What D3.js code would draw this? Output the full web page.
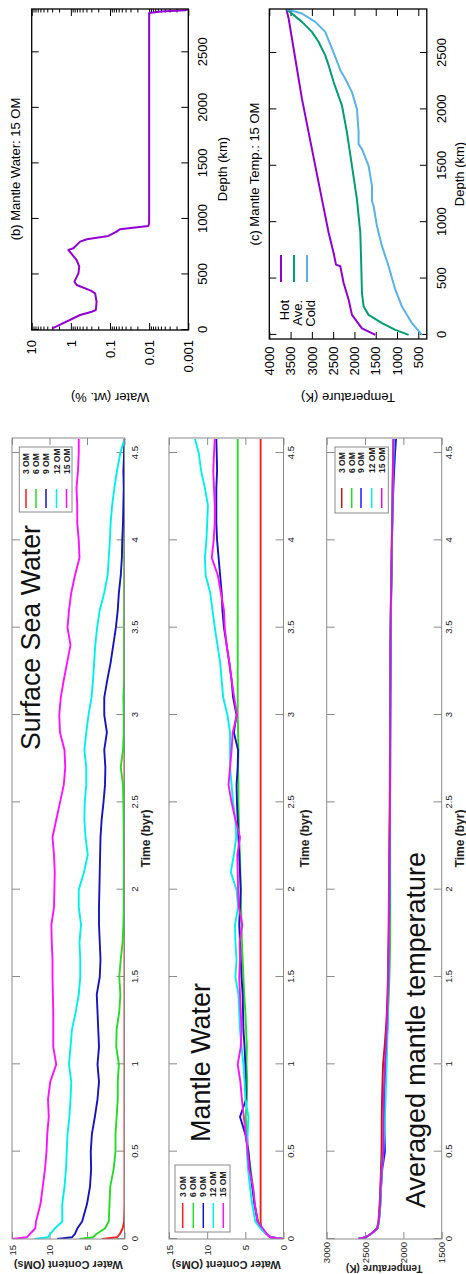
<!DOCTYPE html>
<html>
<head>
<meta charset="utf-8">
<script src="https://cdn.jsdelivr.net/npm/d3@7"></script>
<style>
  html, body { margin: 0; padding: 0; background: #fff; }
  svg { display: block; }
</style>
</head>
<body>
<div id="fig"></div>
<script>
// ---- time series (Time in byr) ----
const times = [0, 0.01, 0.03, 0.06, 0.1, 0.2, 0.3, 0.4, 0.5, 0.6, 0.7, 0.8, 0.9, 1.0, 1.1, 1.2, 1.3, 1.4, 1.5, 1.6,
  1.7, 1.8, 1.9, 2.0, 2.1, 2.2, 2.3, 2.4, 2.5, 2.6, 2.7, 2.8, 2.9, 3.0, 3.1, 3.2, 3.3, 3.4, 3.5, 3.6,
  3.7, 3.8, 3.9, 4.0, 4.1, 4.2, 4.3, 4.4, 4.5, 4.58];

// Surface sea water (OMs)
const sea3  = [3, 1.0, 0.6, 0.25, 0.05, 0, 0, 0, 0, 0, 0, 0, 0, 0, 0, 0, 0, 0, 0, 0,
  0, 0, 0, 0, 0, 0, 0, 0, 0, 0, 0, 0, 0, 0, 0, 0, 0, 0, 0, 0, 0, 0, 0, 0, 0, 0, 0, 0, 0, 0];
const sea6  = [6, 4.2, 3.7, 2.6, 2.1, 2.0, 1.9, 1.45, 1.2, 1.2, 1.05, 0.9, 0.9, 0.75, 1.1, 1.05, 0.7, 0.55, 0.7, 0.5,
  0.25, 0.15, 0.1, 0.1, 0.08, 0.1, 0.1, 0.12, 0.15, 0.2, 0.5, 0.2, 0.1, 0.1, 0.15, 0.05, 0.05, 0.05, 0.05, 0.03,
  0.03, 0.02, 0.02, 0.02, 0.02, 0.01, 0.01, 0, 0, 0];
const sea9  = [9, 7.0, 6.6, 6.3, 5.65, 5.0, 4.6, 4.45, 4.5, 4.35, 3.95, 3.6, 3.4, 3.6, 3.4, 3.5, 3.6, 3.7, 3.3, 3.2,
  3.3, 3.4, 3.4, 3.35, 3.3, 3.25, 3.2, 3.05, 2.8, 2.6, 2.55, 2.7, 2.35, 2.7, 2.7, 2.3, 1.85, 1.5, 1.15, 0.9,
  0.75, 0.5, 0.35, 0.3, 0.2, 0.15, 0.1, 0.15, 0.05, 0];
const sea12 = [12, 10.2, 9.9, 9.3, 8.3, 8.3, 8.0, 7.8, 7.7, 7.6, 7.35, 7.2, 7.1, 7.4, 7.2, 7.0, 6.5, 6.1, 5.9, 5.9,
  6.0, 5.8, 6.1, 6.1, 5.4, 4.9, 5.2, 5.35, 5.3, 5.1, 5.1, 5.35, 5.1, 4.8, 4.4, 4.2, 4.05, 3.9, 3.65, 3.3,
  2.7, 2.25, 2.1, 1.95, 1.85, 1.65, 1.35, 1.0, 0.55, 0];
const sea15 = [15, 13.0, 12.6, 11.9, 11.8, 11.2, 10.9, 10.6, 10.4, 10.3, 10.1, 10.2, 9.9, 9.1, 9.5, 9.5, 9.5, 9.55, 9.6, 9.6,
  9.7, 9.75, 9.4, 9.35, 9.3, 9.4, 9.6, 9.1, 8.6, 8.1, 7.9, 8.0, 8.6, 8.7, 8.5, 8.1, 7.65, 7.2, 7.6, 7.4,
  7.1, 6.6, 6.0, 6.1, 6.3, 6.3, 6.4, 6.2, 6.1, 6.1];

// Mantle water (OMs)
const man3  = [0, 1.7, 2.3, 2.9, 3.0, 3.0, 3.0, 3.0, 3.0, 3.0, 3.0, 3.0, 3.0, 3.0, 3.0, 3.0, 3.0, 3.0, 3.0, 3.0,
  3.0, 3.0, 3.0, 3.0, 3.0, 3.0, 3.0, 3.0, 3.0, 3.0, 3.0, 3.0, 3.0, 3.0, 3.0, 3.0, 3.0, 3.0, 3.0, 3.0,
  3.0, 3.0, 3.0, 3.0, 3.0, 3.0, 3.0, 3.0, 3.0, 3.0];
const man6  = [0, 1.7, 2.2, 2.8, 3.3, 3.8, 4.0, 4.3, 4.6, 4.8, 4.95, 4.8, 4.75, 4.85, 4.8, 4.9, 5.0, 5.15, 5.25, 5.35,
  5.45, 5.5, 5.55, 5.6, 5.65, 5.7, 5.8, 5.85, 5.9, 5.9, 5.95, 5.9, 5.95, 6.0, 6.0, 6.0, 6.0, 6.0, 6.0, 6.0,
  6.0, 6.0, 6.0, 6.0, 6.0, 6.0, 6.0, 6.0, 6.0, 6.0];
const man9  = [0, 1.7, 2.2, 2.8, 3.4, 3.8, 4.1, 4.4, 4.6, 5.0, 5.7, 4.9, 4.95, 5.0, 5.1, 5.25, 5.3, 5.35, 5.5, 5.6,
  5.7, 5.8, 5.7, 5.6, 5.7, 5.8, 5.9, 6.0, 6.1, 6.15, 6.0, 5.95, 6.5, 6.15, 6.6, 6.8, 7.1, 7.45, 7.8, 8.0,
  8.1, 8.3, 8.5, 8.7, 8.8, 8.8, 8.8, 8.7, 8.75, 8.8];
const man12 = [0, 1.7, 2.3, 3.0, 3.7, 4.1, 4.4, 4.65, 4.8, 4.7, 4.6, 5.0, 5.1, 5.25, 5.5, 5.7, 5.8, 5.9, 6.3, 6.15,
  6.3, 6.35, 5.95, 6.15, 6.9, 6.5, 6.2, 6.3, 6.6, 6.8, 7.0, 7.0, 7.0, 7.35, 7.9, 8.1, 8.3, 8.65, 9.0, 9.3,
  9.6, 10.2, 10.3, 10.1, 10.0, 9.9, 10.3, 10.8, 11.1, 11.6];
const man15 = [0, 1.75, 2.2, 2.7, 3.4, 3.75, 4.0, 4.5, 4.7, 4.95, 5.2, 5.45, 5.65, 6.0, 5.6, 5.5, 5.6, 5.7, 5.8, 5.7,
  5.75, 5.4, 5.85, 5.95, 6.0, 6.05, 5.7, 6.3, 6.8, 7.2, 7.0, 6.8, 6.65, 6.1, 6.45, 6.8, 7.1, 7.45, 7.7, 7.8,
  8.2, 8.6, 9.4, 9.15, 9.0, 9.0, 9.1, 9.2, 9.1, 9.0];

// Averaged mantle temperature (K)
const tmp3  = [2590, 2490, 2420, 2345, 2325, 2310, 2300, 2292, 2285, 2283, 2282, 2278, 2272, 2265, 2245, 2228, 2215, 2207, 2202, 2198,
  2195, 2192, 2190, 2188, 2186, 2184, 2182, 2180, 2178, 2177, 2176, 2175, 2174, 2173, 2172, 2171, 2170, 2169, 2167, 2165,
  2161, 2157, 2154, 2151, 2147, 2144, 2141, 2138, 2134, 2130];
const tmp6  = [2590, 2490, 2420, 2340, 2320, 2302, 2293, 2282, 2268, 2262, 2258, 2252, 2244, 2235, 2222, 2210, 2200, 2190, 2182, 2176,
  2173, 2172, 2171, 2171, 2172, 2172, 2172, 2172, 2172, 2172, 2171, 2171, 2171, 2170, 2170, 2169, 2168, 2167, 2165, 2163,
  2159, 2155, 2152, 2149, 2145, 2141, 2138, 2135, 2131, 2127];
const tmp9  = [2590, 2490, 2420, 2340, 2318, 2300, 2290, 2275, 2240, 2245, 2248, 2245, 2238, 2228, 2218, 2210, 2204, 2199, 2195, 2191,
  2188, 2186, 2184, 2182, 2180, 2178, 2177, 2175, 2174, 2173, 2172, 2172, 2171, 2170, 2169, 2168, 2167, 2166, 2164, 2162,
  2158, 2154, 2151, 2148, 2144, 2138, 2130, 2120, 2108, 2095];
const tmp12 = [2590, 2490, 2420, 2340, 2318, 2298, 2290, 2278, 2262, 2250, 2240, 2232, 2225, 2218, 2212, 2206, 2201, 2197, 2193, 2190,
  2188, 2186, 2184, 2182, 2180, 2178, 2177, 2175, 2174, 2173, 2172, 2172, 2171, 2170, 2169, 2168, 2167, 2166, 2164, 2162,
  2158, 2154, 2151, 2148, 2144, 2140, 2137, 2133, 2128, 2122];
const tmp15 = [2590, 2490, 2420, 2340, 2322, 2304, 2296, 2283, 2263, 2261, 2260, 2258, 2250, 2240, 2228, 2218, 2210, 2203, 2197, 2193,
  2190, 2188, 2186, 2184, 2182, 2180, 2178, 2176, 2175, 2174, 2174, 2173, 2172, 2172, 2171, 2170, 2169, 2168, 2166, 2164,
  2160, 2156, 2153, 2150, 2146, 2142, 2139, 2136, 2132, 2128];

const omLabels   = ['3 OM', '6 OM', '9 OM', '12 OM', '15 OM'];
const timeTicks  = [0, 0.5, 1, 1.5, 2, 2.5, 3, 3.5, 4, 4.5];
const waterTicks = [0, 5, 10, 15];
const tempTicks  = [1500, 2000, 2500, 3000];

// ---- (b) mantle water profile, 15 OM ----
const depthB = [15, 135, 165, 180, 255, 330, 354, 405, 435, 510, 570, 630, 721, 736, 796, 817, 847, 886, 907, 937, 961, 2853, 2868, 2878, 2890];
const waterB = [2.97, 0.58, 0.29, 0.23, 0.22, 0.24, 0.31, 0.71, 0.81, 0.64, 0.61, 0.71, 1.16, 0.86, 0.58, 0.39, 0.11, 0.068, 0.056, 0.0105, 0.01, 0.01, 0.005, 0.0012, 0.001];

// ---- (c) mantle temperature profile, 15 OM ----
const hotDepth  = [0, 59, 178, 312, 460, 609, 623, 727, 906, 1202, 1499, 1796, 2093, 2449, 2806, 2890];
const hotT      = [1510, 1823, 2058, 2136, 2254, 2332, 2434, 2489, 2606, 2763, 2920, 3076, 3233, 3389, 3546, 3600];
const aveDepth  = [0, 45, 104, 178, 252, 371, 609, 906, 1202, 1499, 1796, 2034, 2242, 2390, 2479, 2598, 2687, 2776, 2890];
const aveT      = [727, 1040, 1353, 1667, 1784, 1823, 1839, 1862, 1941, 2058, 2176, 2293, 2489, 2606, 2685, 2841, 2998, 3233, 3600];
const coldDepth = [0, 104, 252, 401, 609, 787, 965, 1143, 1188, 1321, 1499, 1648, 1692, 1796, 2004, 2153, 2271, 2346, 2390, 2539, 2687, 2776, 2850, 2890];
const coldT     = [414, 649, 884, 1040, 1197, 1353, 1471, 1549, 1588, 1588, 1667, 1823, 1902, 1902, 1941, 2058, 2215, 2332, 2372, 2528, 2685, 2920, 3233, 3600];

const depthTicks = [0, 500, 1000, 1500, 2000, 2500];
const logTicks   = [0.001, 0.01, 0.1, 1, 10];
const tempCTicks = [500, 1000, 1500, 2000, 2500, 3000, 3500, 4000];

// ---------------------------------------------------------------
const FONT = '"Liberation Sans", Arial, Helvetica, sans-serif';
const W = 466, H = 1274;
const plain = d => String(d);

const svg = d3.select('#fig').append('svg')
  .attr('width', W).attr('height', H)
  .attr('font-family', FONT);
svg.append('rect').attr('width', W).attr('height', H).attr('fill', '#fff');
const defs = svg.append('defs');

// the whole figure is landscape (1274 x 466), turned a quarter left
const g = svg.append('g').attr('transform', `translate(0,${H}) rotate(-90)`);

function clip(id, x, y, w, h) {
  defs.append('clipPath').attr('id', id)
    .append('rect').attr('x', x).attr('y', y).attr('width', w).attr('height', h);
  return `url(#${id})`;
}

function styleAxis(sel, tickColor, fontSize, textColor) {
  sel.attr('font-family', FONT).attr('font-size', fontSize);
  sel.select('.domain').remove();
  sel.selectAll('.tick line').attr('stroke', tickColor);
  sel.selectAll('.tick text').attr('fill', textColor);
}

const palA = ['#ff1a1a', '#22dd22', '#1414c0', '#00f0f0', '#ff10ff'];
const palB = ['#c81414', '#22dd22', '#1a1aff', '#00f0f0', '#dd10dd'];

const panels = [
  { key: 'sea', top: 12, bottom: 124.5, domain: [0, 15], ticks: waterTicks, series: [sea3, sea6, sea9, sea12, sea15],
    colors: palA, tpad: 7, vpad: 6, ylabel: 'Water Content (OMs)', ylabelX: 13.5, ylabelSize: 11,
    tlabelY: 149.6, title: 'Surface Sea Water', titleX: 524, titleY: 40, titleLen: 225,
    leg: { x0: 762, x1: 827, y0: 19.3, y1: 72, lx0: 766, lx1: 785, tx: 800, rows: [26, 36, 46, 56.5, 66.5] } },
  { key: 'man', top: 169, bottom: 283.5, domain: [0, 15], ticks: waterTicks, series: [man3, man6, man9, man12, man15],
    colors: palA, tpad: 3.5, vpad: 6, ylabel: 'Water Content (OMs)', ylabelX: 13.5, ylabelSize: 11,
    tlabelY: 308.5, title: 'Mantle Water', titleX: 132, titleY: 210, titleLen: 159,
    leg: { x0: 42, x1: 109, y0: 175, y1: 230, lx0: 46, lx1: 71, tx: 77, rows: [182.7, 193.3, 203.3, 213.3, 223.3] } },
  { key: 'tmp', top: 326.7, bottom: 441.7, domain: [1500, 3000], ticks: tempTicks, series: [tmp3, tmp6, tmp9, tmp12, tmp15],
    colors: palB, tpad: 3.5, vpad: 3, ylabel: 'Temperature (K)', ylabelX: 9, ylabelSize: 10,
    tlabelY: 464, title: 'Averaged mantle temperature', titleX: 66, titleY: 424.5, titleLen: 356,
    leg: { x0: 761, x1: 827, y0: 335, y1: 388.3, lx0: 766, lx1: 786, tx: 801, rows: [341.7, 351.7, 361, 371.7, 381.7] } }
];

const xT = d3.scaleLinear().domain([0, 4.586]).range([35, 836]);
const GRAY = '#8a8a8a';

panels.forEach(p => {
  const y = d3.scaleLinear().domain(p.domain).range([p.bottom, p.top]);
  const pg = g.append('g');

  // axes: ticks inward on all four sides, labels left and bottom
  pg.append('g').attr('transform', `translate(0,${p.bottom})`)
    .call(d3.axisBottom(xT).tickValues(timeTicks).tickSizeInner(-8).tickSizeOuter(0)
      .tickPadding(p.tpad).tickFormat(plain))
    .call(s => styleAxis(s, GRAY, 9.5, '#222'));
  pg.append('g').attr('transform', `translate(0,${p.top})`)
    .call(d3.axisTop(xT).tickValues(timeTicks).tickSizeInner(-8).tickSizeOuter(0).tickFormat(() => ''))
    .call(s => styleAxis(s, GRAY, 9.5, '#222'));
  pg.append('g').attr('transform', 'translate(35,0)')
    .call(d3.axisLeft(y).tickValues(p.ticks).tickSizeInner(-7).tickSizeOuter(0).tickPadding(p.vpad).tickFormat(plain))
    .call(s => styleAxis(s, GRAY, 9.5, '#222'));
  pg.append('g').attr('transform', 'translate(836,0)')
    .call(d3.axisRight(y).tickValues(p.ticks).tickSizeInner(-7).tickSizeOuter(0).tickFormat(() => ''))
    .call(s => styleAxis(s, GRAY, 9.5, '#222'));

  // series
  const line = d3.line().x(d => xT(d[0])).y(d => y(d[1]));
  const lg = pg.append('g').attr('clip-path', clip('c-' + p.key, 35, p.top, 801, p.bottom - p.top));
  p.series.forEach((vals, i) => {
    lg.append('path')
      .datum(times.map((t, k) => [t, vals[k]]))
      .attr('d', line)
      .attr('fill', 'none')
      .attr('stroke', p.colors[i])
      .attr('stroke-width', 1.9)
      .attr('stroke-linejoin', 'round');
  });

  // frame
  pg.append('rect').attr('x', 35).attr('y', p.top).attr('width', 801).attr('height', p.bottom - p.top)
    .attr('fill', 'none').attr('stroke', GRAY).attr('stroke-width', 1);

  // legend
  const L = p.leg;
  pg.append('rect').attr('x', L.x0).attr('y', L.y0).attr('width', L.x1 - L.x0).attr('height', L.y1 - L.y0)
    .attr('fill', '#fff').attr('stroke', GRAY).attr('stroke-width', 1);
  omLabels.forEach((lab, i) => {
    pg.append('line').attr('x1', L.lx0).attr('x2', L.lx1).attr('y1', L.rows[i]).attr('y2', L.rows[i])
      .attr('stroke', p.colors[i]).attr('stroke-width', 1.5);
    pg.append('text').attr('x', L.tx).attr('y', L.rows[i] + 3)
      .attr('font-size', 8.5).attr('font-weight', 'bold').attr('fill', '#222').text(lab);
  });

  // labels
  pg.append('text').attr('x', 435.5).attr('y', p.tlabelY).attr('text-anchor', 'middle')
    .attr('font-size', 12).attr('font-weight', 'bold').attr('fill', '#222').text('Time (byr)');
  pg.append('text')
    .attr('transform', `translate(${p.ylabelX},${(p.top + p.bottom) / 2}) rotate(-90)`)
    .attr('text-anchor', 'middle').attr('font-size', p.ylabelSize).attr('font-weight', 'bold').attr('fill', '#222')
    .text(p.ylabel);
  pg.append('text').attr('x', p.titleX).attr('y', p.titleY)
    .attr('font-size', 27).attr('fill', '#111')
    .attr('textLength', p.titleLen).attr('lengthAdjust', 'spacingAndGlyphs')
    .text(p.title);
});

// ---- panel (b) ----
{
  const x = d3.scaleLinear().domain([0, 2890]).range([944, 1265]);
  const y = d3.scaleLog().domain([0.001, 10]).range([188.3, 31.7]);
  const bg = g.append('g');
  const minors = y.ticks().filter(v => !logTicks.some(m => Math.abs(v / m - 1) < 1e-6));
  const fmt = d => ({ 0.001: '0.001', 0.01: '0.01', 0.1: '0.1', 1: '1', 10: '10' })[d];

  bg.append('g').attr('transform', 'translate(0,188.3)')
    .call(d3.axisBottom(x).tickValues(depthTicks).tickSizeInner(-7).tickSizeOuter(0).tickPadding(9).tickFormat(plain))
    .call(s => styleAxis(s, '#000', 13, '#000'));
  bg.append('g').attr('transform', 'translate(0,31.7)')
    .call(d3.axisTop(x).tickValues(depthTicks).tickSizeInner(-7).tickSizeOuter(0).tickFormat(() => ''))
    .call(s => styleAxis(s, '#000', 13, '#000'));
  bg.append('g').attr('transform', 'translate(944,0)')
    .call(d3.axisLeft(y).tickValues(logTicks).tickSizeInner(-7).tickSizeOuter(0).tickPadding(10).tickFormat(fmt))
    .call(s => styleAxis(s, '#000', 13, '#000'));
  bg.append('g').attr('transform', 'translate(944,0)')
    .call(d3.axisLeft(y).tickValues(minors).tickSizeInner(-3.5).tickSizeOuter(0).tickFormat(() => ''))
    .call(s => styleAxis(s, '#000', 13, '#000'));
  bg.append('g').attr('transform', 'translate(1265,0)')
    .call(d3.axisRight(y).tickValues(logTicks).tickSizeInner(-7).tickSizeOuter(0).tickFormat(() => ''))
    .call(s => styleAxis(s, '#000', 13, '#000'));
  bg.append('g').attr('transform', 'translate(1265,0)')
    .call(d3.axisRight(y).tickValues(minors).tickSizeInner(-3.5).tickSizeOuter(0).tickFormat(() => ''))
    .call(s => styleAxis(s, '#000', 13, '#000'));

  bg.append('path')
    .datum(depthB.map((d, i) => [d, waterB[i]]))
    .attr('clip-path', clip('c-b', 944, 31.7, 321, 156.6))
    .attr('d', d3.line().x(d => x(d[0])).y(d => y(d[1])))
    .attr('fill', 'none').attr('stroke', '#9400d3').attr('stroke-width', 2).attr('stroke-linejoin', 'round');

  bg.append('rect').attr('x', 944).attr('y', 31.7).attr('width', 321).attr('height', 156.6)
    .attr('fill', 'none').attr('stroke', '#000').attr('stroke-width', 1.3);

  bg.append('text').attr('x', 1105).attr('y', 19.5).attr('text-anchor', 'middle')
    .attr('font-size', 13).attr('fill', '#000').text('(b) Mantle Water: 15 OM');
  bg.append('text').attr('x', 1105).attr('y', 227).attr('text-anchor', 'middle')
    .attr('font-size', 13).attr('fill', '#000').text('Depth (km)');
  bg.append('text').attr('transform', 'translate(881.5,110) rotate(-90)').attr('text-anchor', 'middle')
    .attr('font-size', 13).attr('fill', '#000').text('Water (wt. %)');
}

// ---- panel (c) ----
{
  const x = d3.scaleLinear().domain([-36, 2890]).range([935, 1265]);
  const y = d3.scaleLinear().domain([300, 4000]).range([426.8, 269.3]);
  const cg = g.append('g');

  cg.append('g').attr('transform', 'translate(0,426.8)')
    .call(d3.axisBottom(x).tickValues(depthTicks).tickSizeInner(-7).tickSizeOuter(0).tickPadding(10).tickFormat(plain))
    .call(s => styleAxis(s, '#000', 13, '#000'));
  cg.append('g').attr('transform', 'translate(0,269.3)')
    .call(d3.axisTop(x).tickValues(depthTicks).tickSizeInner(-7).tickSizeOuter(0).tickFormat(() => ''))
    .call(s => styleAxis(s, '#000', 13, '#000'));
  cg.append('g').attr('transform', 'translate(935,0)')
    .call(d3.axisLeft(y).tickValues(tempCTicks).tickSizeInner(-7).tickSizeOuter(0).tickPadding(7.5).tickFormat(plain))
    .call(s => styleAxis(s, '#000', 13, '#000'));
  cg.append('g').attr('transform', 'translate(1265,0)')
    .call(d3.axisRight(y).tickValues(tempCTicks).tickSizeInner(-7).tickSizeOuter(0).tickFormat(() => ''))
    .call(s => styleAxis(s, '#000', 13, '#000'));

  const profiles = [
    { name: 'Hot',  depth: hotDepth,  temp: hotT,  color: '#9400d3' },
    { name: 'Ave.', depth: aveDepth,  temp: aveT,  color: '#009e73' },
    { name: 'Cold', depth: coldDepth, temp: coldT, color: '#56b4e9' }
  ];
  const line = d3.line().x(d => x(d[0])).y(d => y(d[1]));
  const cl = clip('c-c', 935, 269.3, 330, 157.5);
  profiles.forEach((pr, i) => {
    cg.append('path')
      .datum(pr.depth.map((d, k) => [d, pr.temp[k]]))
      .attr('clip-path', cl)
      .attr('d', line)
      .attr('fill', 'none').attr('stroke', pr.color).attr('stroke-width', 2).attr('stroke-linejoin', 'round');
    const ly = 281 + i * 13;
    cg.append('line').attr('x1', 992).attr('x2', 1019).attr('y1', ly).attr('y2', ly)
      .attr('stroke', pr.color).attr('stroke-width', 2);
    cg.append('text').attr('x', 974).attr('y', ly + 7.5).attr('text-anchor', 'end')
      .attr('font-size', 13).attr('fill', '#000').text(pr.name);
  });

  cg.append('rect').attr('x', 935).attr('y', 269.3).attr('width', 330).attr('height', 157.5)
    .attr('fill', 'none').attr('stroke', '#000').attr('stroke-width', 1.3);

  cg.append('text').attr('x', 1100).attr('y', 259).attr('text-anchor', 'middle')
    .attr('font-size', 13).attr('fill', '#000').text('(c) Mantle Temp.: 15 OM');
  cg.append('text').attr('x', 1100).attr('y', 464).attr('text-anchor', 'middle')
    .attr('font-size', 13).attr('fill', '#000').text('Depth (km)');
  cg.append('text').attr('transform', 'translate(881,348) rotate(-90)').attr('text-anchor', 'middle')
    .attr('font-size', 13).attr('fill', '#000').text('Temperature (K)');
}
</script>
</body>
</html>
